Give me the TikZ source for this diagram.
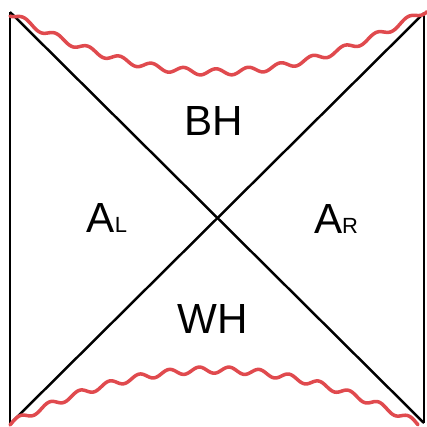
\documentclass[tikz,border=0pt]{standalone}
\usepackage{fontspec}
\setmainfont{Liberation Sans}
\usepackage{tikz}
\usetikzlibrary{positioning}
\definecolor{singred}{RGB}{224,74,78}

\tikzset{
  edge/.style={line width=1.4pt,black},
  sing/.style={line width=2pt,singred,line cap=round,line join=round},
  region/.style={font=\fontsize{24}{28}\selectfont,inner sep=0pt}
}
\newcommand{\subr}[1]{{\fontsize{12.5}{14}\selectfont #1}}

\begin{document}
\begin{tikzpicture}[x=0.02cm,y=-0.02cm]
\useasboundingbox (0,0) rectangle (427,427);
\coordinate (tl) at (10,12);
\coordinate (tr) at (424,13);
\coordinate (bl) at (10,424);
\coordinate (br) at (424,423);
% boundaries and horizons
\draw[edge] (tl)--(bl);
\draw[edge] (tr)--(br);
\draw[edge] (tl)--(br);
\draw[edge] (bl)--(tr);
% singularities
\draw[sing] plot[domain=10:427,samples=260,smooth]
  (\x,{12+60*(1-((\x-215)/207)^2)+3.2*sin(11.25*\x)});
\draw[sing] plot[domain=10:418,samples=260,smooth]
  (\x,{425-55*(1-((\x-214)/206)^2)+3.2*sin(12*\x+40)});
% regions
\node[region] (bh) at (214,121) {BH};
\node[region] (wh) at (213,319) {WH};
\node[region,anchor=base] (al) at (107,232) {A\subr{L}};
\node[region,anchor=base] (ar) at (336,233) {A\subr{R}};
\end{tikzpicture}
\end{document}
